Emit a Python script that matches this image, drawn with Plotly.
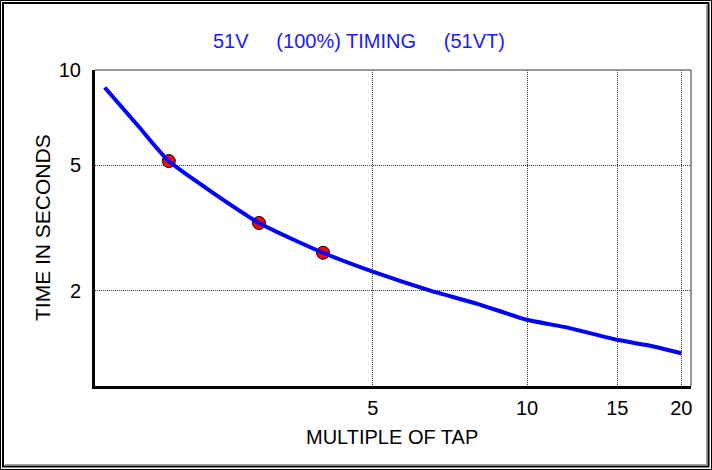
import plotly.graph_objects as go

# ---- data ----
curve_multiple = [1.5, 1.75, 2, 3, 4, 5, 6.5, 8, 10, 12, 15, 17, 18.5, 20]
curve_seconds = [8.8, 6.6, 5.15, 3.28, 2.64, 2.30, 2.0, 1.82, 1.62, 1.53, 1.40, 1.35, 1.31, 1.27]
test_multiple = [2, 3, 4]
test_seconds = [5.15, 3.28, 2.64]
x_ticks = [5, 10, 15, 20]
y_ticks = [2, 5, 10]

SP5 = "\u00a0" * 5
title_text = "51V" + SP5 + "(100%) TIMING" + SP5 + "(51VT)"
x_title = "MULTIPLE OF TAP"
y_title = "TIME IN SECONDS"

W, H = 712, 470
L, R, T, B = 95, 21, 70, 84
PW, PH = W - L - R, H - T - B


def px(x):
    return (x - L) / PW


def py(y):
    return (H - B - y) / PH


FONT = "Liberation Sans, Arial, sans-serif"

fig = go.Figure()
fig.add_trace(go.Scatter(
    x=test_multiple, y=test_seconds, mode="markers",
    marker=dict(size=13, color="#ff0000", line=dict(color="black", width=1)),
    hoverinfo="skip", showlegend=False))
fig.add_trace(go.Scatter(
    x=curve_multiple, y=curve_seconds, mode="lines",
    line=dict(color="#0000ff", width=4, shape="spline", smoothing=0.5),
    showlegend=False))

fig.update_xaxes(
    type="log", range=[0.157, 1.32],
    tickvals=x_ticks, ticktext=[str(v) for v in x_ticks],
    tickfont=dict(family=FONT, size=20, color="black"),
    showgrid=True, gridcolor="#333333", gridwidth=1, griddash="1px,1px",
    showline=True, linecolor="black", linewidth=3, ticks="",
    ticklabelstandoff=2, zeroline=False)
fig.update_yaxes(
    type="log", range=[0, 1],
    tickvals=y_ticks, ticktext=[str(v) for v in y_ticks],
    tickfont=dict(family=FONT, size=20, color="black"),
    showgrid=True, gridcolor="#333333", gridwidth=1, griddash="1px,1px",
    showline=True, linecolor="black", linewidth=3, ticks="",
    ticklabelstandoff=7, zeroline=False)

shapes = [
    # plot frame top / right
    dict(type="line", xref="paper", yref="paper", x0=0, x1=1, y0=1, y1=1,
         line=dict(color="#333333", width=1)),
    dict(type="line", xref="paper", yref="paper", x0=1, x1=1, y0=0, y1=1,
         line=dict(color="#333333", width=1)),
    # outer window border
    dict(type="rect", xref="paper", yref="paper",
         x0=px(0.5), x1=px(711.5), y0=py(469.5), y1=py(0.5),
         line=dict(color="black", width=1)),
    dict(type="rect", xref="paper", yref="paper",
         x0=px(3), x1=px(708.5), y0=py(466.5), y1=py(3),
         line=dict(color="black", width=2)),
    dict(type="line", xref="paper", yref="paper",
         x0=px(706.5), x1=px(706.5), y0=py(464.5), y1=py(5),
         line=dict(color="#a0a0a0", width=1)),
    dict(type="line", xref="paper", yref="paper",
         x0=px(5), x1=px(706.5), y0=py(464.5), y1=py(464.5),
         line=dict(color="#a0a0a0", width=1)),
]

annotations = [
    dict(text=title_text, xref="paper", yref="paper", x=px(359), y=py(41),
         showarrow=False, xanchor="center", yanchor="middle",
         font=dict(family=FONT, size=20, color="#1a1aff")),
    dict(text=x_title, xref="paper", yref="paper", x=px(392), y=py(437),
         showarrow=False, xanchor="center", yanchor="middle",
         font=dict(family=FONT, size=20, color="black")),
    dict(text=y_title, xref="paper", yref="paper", x=px(42), y=py(228),
         showarrow=False, xanchor="center", yanchor="middle", textangle=-90,
         font=dict(family=FONT, size=21, color="black")),
]

fig.update_layout(
    width=W, height=H, margin=dict(l=L, r=R, t=T, b=B, pad=0),
    paper_bgcolor="white", plot_bgcolor="white",
    shapes=shapes, annotations=annotations, showlegend=False)

fig.write_html(
    "out.html",
    config={"displayModeBar": False},
    post_script="document.body.style.margin='0';document.body.style.padding='0';")
